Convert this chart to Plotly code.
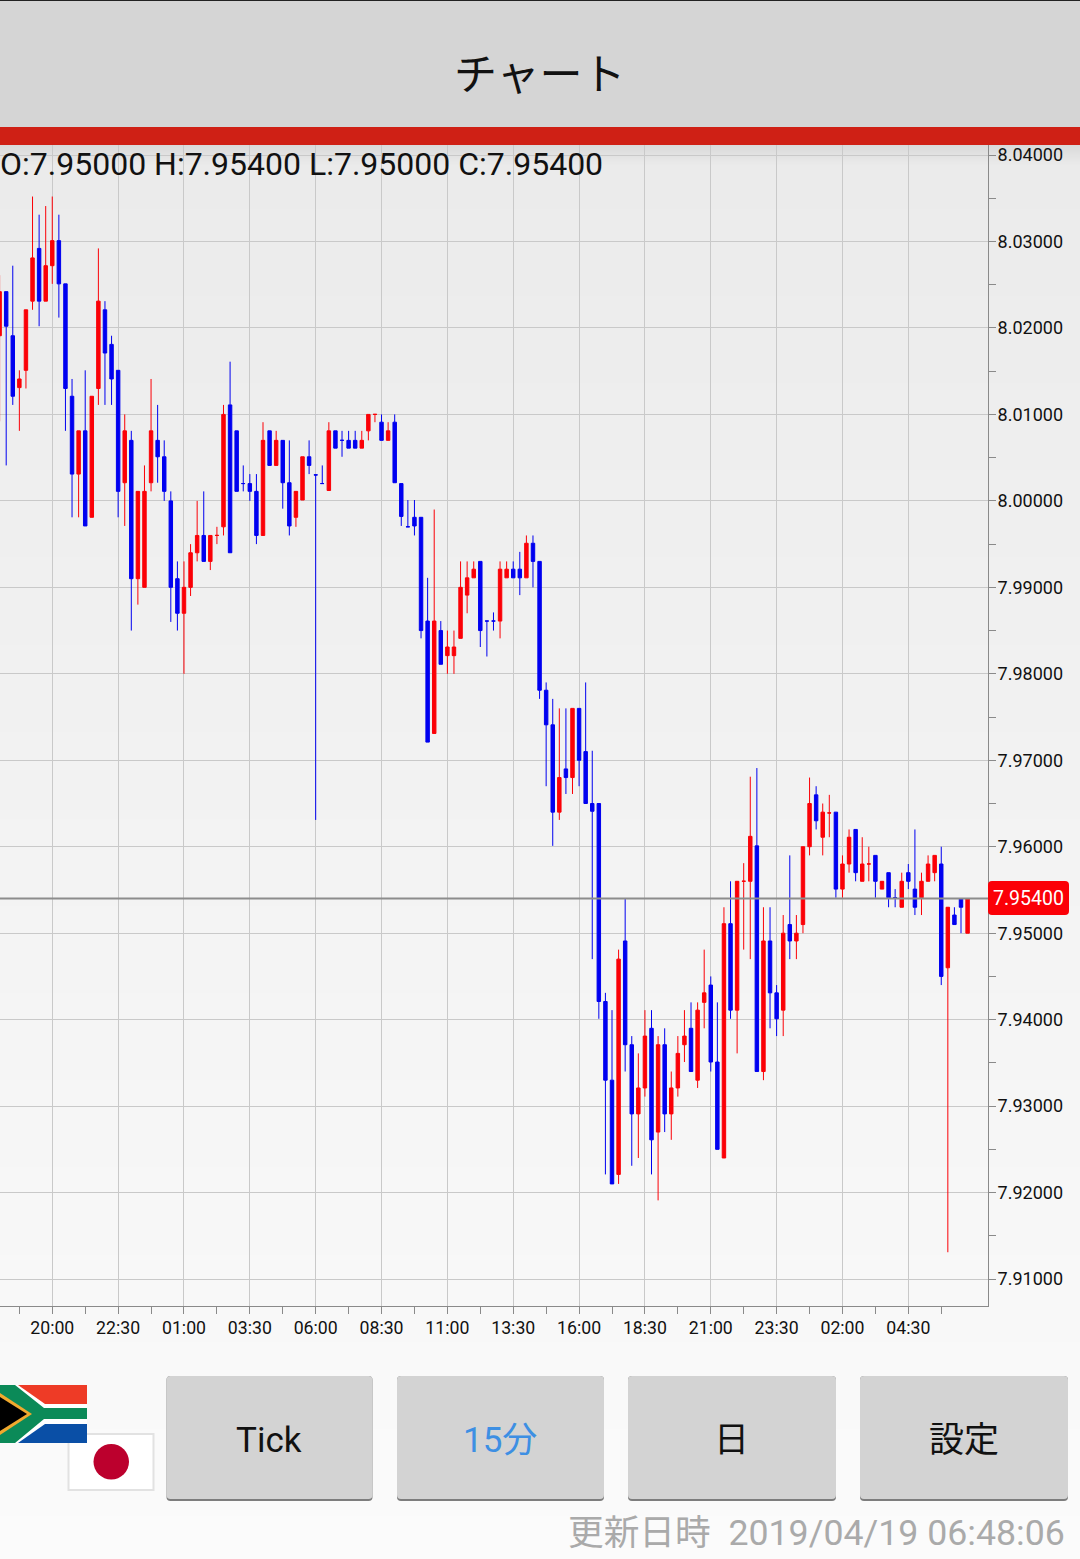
"""
plot.py
チャート画面(ZAR/JPY 15分足)を Plotly で再現する。
"""
import plotly.graph_objects as go

# 15分足の四本値。20:00 の足を 0 番として -8 番から並べる
OPEN = [
    8.0191, 8.0242, 8.0191, 8.0131, 8.0151, 8.0231, 8.0292, 8.0231, 8.0272, 8.0301,
    8.0251, 8.0121, 8.0031, 8.0081, 7.9981, 8.0130, 8.0221, 8.0181, 8.0151, 8.0021,
    8.0070, 7.9910, 7.9900, 8.0021, 8.0070, 8.0051, 8.0000, 7.9910, 7.9870, 7.9900,
    7.9940, 7.9960, 7.9930, 7.9960, 7.9970, 8.0111, 8.0081, 8.00201, 8.0020, 8.0011,
    7.9960, 8.0081, 8.0041, 8.0070, 8.0021, 7.9981, 8.0001, 8.0051, 8.00301, 8.00201,
    8.0012, 8.0081, 8.00701, 8.0070, 8.0070, 8.0061, 8.0081, 8.0100, 8.0091, 8.0070,
    8.0091, 8.0020, 7.99701, 7.9981, 7.9981, 7.9861, 7.9731, 7.9850, 7.9821, 7.9821,
    7.9841, 7.9891, 7.9911, 7.9930, 7.98611, 7.98611, 7.9861, 7.9911, 7.9921, 7.9921,
    7.9911, 7.9951, 7.9930, 7.9781, 7.9741, 7.9640, 7.9690, 7.9680, 7.9760, 7.9710,
    7.9650, 7.9650, 7.9421, 7.9330, 7.9221, 7.9491, 7.9371, 7.9291, 7.9321, 7.9390,
    7.9270, 7.9371, 7.9291, 7.9321, 7.9371, 7.9390, 7.9330, 7.9420, 7.9440, 7.9351,
    7.9240, 7.9511, 7.9411, 7.9560, 7.9560, 7.9601, 7.9340, 7.9491, 7.9431, 7.9411,
    7.9510, 7.9491, 7.9510, 7.9600, 7.9660, 7.9611, 7.9639, 7.9640, 7.9551, 7.9580,
    7.9620, 7.9560, 7.9580, 7.9590, 7.9551, 7.9570, 7.95411, 7.9530, 7.9570, 7.9551,
    7.9541, 7.9560, 7.9570, 7.9580, 7.9460, 7.9521, 7.9540, 7.9500,
]
HIGH = [
    8.0261, 8.0242, 8.0272, 8.0151, 8.0221, 8.0352, 8.0331, 8.0341, 8.0352, 8.0331,
    8.0251, 8.0141, 8.0081, 8.0151, 8.0121, 8.0292, 8.0231, 8.0191, 8.0151, 8.0100,
    8.0081, 8.0011, 8.0041, 8.0141, 8.0111, 8.0070, 8.0011, 7.9930, 7.9930, 7.9950,
    8.0000, 8.0011, 7.9960, 7.9970, 8.0111, 8.0161, 8.0081, 8.0041, 8.0031, 8.0031,
    8.0091, 8.0081, 8.0081, 8.0070, 8.0070, 8.0011, 8.0051, 8.0070, 8.00301, 8.0041,
    8.0091, 8.0081, 8.0081, 8.0081, 8.0081, 8.0081, 8.0100, 8.01001, 8.0100, 8.0091,
    8.0100, 8.0020, 8.0001, 8.0001, 7.9981, 7.9911, 7.9990, 7.9861, 7.9850, 7.9850,
    7.9930, 7.9930, 7.9930, 7.9930, 7.98611, 7.9871, 7.9930, 7.9930, 7.9930, 7.9941,
    7.9960, 7.9960, 7.9930, 7.9790, 7.9771, 7.9760, 7.9760, 7.9760, 7.9760, 7.9790,
    7.9711, 7.9650, 7.9431, 7.9411, 7.9481, 7.9540, 7.9381, 7.9361, 7.9411, 7.9411,
    7.9381, 7.9390, 7.9340, 7.9381, 7.9411, 7.9420, 7.9420, 7.9481, 7.9450, 7.9420,
    7.9530, 7.9560, 7.9560, 7.9581, 7.9681, 7.9691, 7.9530, 7.9530, 7.9440, 7.9521,
    7.9590, 7.9521, 7.9600, 7.9680, 7.9670, 7.9650, 7.9660, 7.9640, 7.9590, 7.9620,
    7.9620, 7.9611, 7.9600, 7.9590, 7.9560, 7.9570, 7.9551, 7.9570, 7.9580, 7.9620,
    7.9570, 7.9590, 7.9590, 7.9600, 7.9530, 7.9530, 7.9540, 7.9540,
]
LOW = [
    8.0092, 8.0041, 8.0111, 8.0081, 8.0130, 8.0221, 8.0202, 8.0231, 8.0251, 8.0212,
    8.0081, 7.9981, 7.9981, 7.9971, 7.9981, 8.0111, 8.0111, 8.0111, 7.9981, 7.9971,
    7.9850, 7.9880, 7.9900, 8.0011, 8.0021, 8.0000, 7.9860, 7.9850, 7.9800, 7.9890,
    7.9930, 7.9930, 7.9920, 7.9950, 7.9960, 7.9940, 8.0011, 8.0011, 8.0000, 7.9950,
    7.9960, 8.0041, 8.0041, 7.9991, 7.9960, 7.9970, 8.0001, 8.0031, 7.9631, 8.0020,
    8.0012, 8.0061, 8.0051, 8.0061, 8.0061, 8.0061, 8.0070, 8.0091, 8.0070, 8.0070,
    8.0021, 7.9971, 7.9970, 7.9960, 7.9841, 7.9721, 7.9731, 7.9811, 7.9800, 7.9800,
    7.9841, 7.9870, 7.9911, 7.9831, 7.9820, 7.9850, 7.9841, 7.9911, 7.9911, 7.9891,
    7.9911, 7.9900, 7.9771, 7.9670, 7.9601, 7.9631, 7.9661, 7.9661, 7.9670, 7.9650,
    7.9470, 7.9401, 7.9221, 7.9210, 7.9210, 7.9340, 7.9231, 7.9240, 7.9311, 7.9221,
    7.9191, 7.9270, 7.9261, 7.9311, 7.9351, 7.9340, 7.9321, 7.9390, 7.9340, 7.9250,
    7.9240, 7.9401, 7.9361, 7.9481, 7.9470, 7.9340, 7.9330, 7.9390, 7.9381, 7.9381,
    7.9470, 7.9470, 7.9500, 7.9590, 7.9620, 7.9590, 7.9611, 7.9541, 7.9541, 7.9570,
    7.9560, 7.9560, 7.9560, 7.9541, 7.9551, 7.9530, 7.9530, 7.9530, 7.9551, 7.9521,
    7.9521, 7.9560, 7.9560, 7.9440, 7.9131, 7.9510, 7.9500, 7.9500,
]
CLOSE = [
    8.0242, 8.0202, 8.0121, 8.0141, 8.0221, 8.0281, 8.0231, 8.0272, 8.0301, 8.0251,
    8.0130, 8.0031, 8.0081, 7.9971, 8.0121, 8.0231, 8.0171, 8.0141, 8.0011, 8.0081,
    7.9910, 8.0011, 8.0011, 8.0081, 8.0051, 8.0011, 7.9900, 7.9870, 7.9900, 7.9940,
    7.9960, 7.9930, 7.9960, 7.99601, 8.0100, 7.9940, 8.0011, 8.0020, 8.0011, 7.9960,
    8.0070, 8.0041, 8.0070, 8.0021, 7.9971, 8.0011, 8.0051, 8.0041, 8.0030, 8.0020,
    8.0081, 8.0061, 8.0070, 8.0061, 8.0061, 8.0070, 8.0100, 8.01001, 8.0070, 8.0081,
    8.0021, 7.9982, 7.9970, 7.9971, 7.9850, 7.9721, 7.9861, 7.9811, 7.9831, 7.9831,
    7.9900, 7.9911, 7.9921, 7.9850, 7.9861, 7.9861, 7.9921, 7.9921, 7.9911, 7.9911,
    7.9951, 7.9930, 7.9781, 7.9741, 7.9640, 7.9680, 7.9680, 7.9760, 7.9700, 7.9650,
    7.9641, 7.9421, 7.9330, 7.9210, 7.9470, 7.9371, 7.9291, 7.9321, 7.9381, 7.9261,
    7.9371, 7.9291, 7.9321, 7.9361, 7.9381, 7.9340, 7.9411, 7.9431, 7.9351, 7.9250,
    7.9511, 7.9411, 7.9560, 7.95601, 7.9612, 7.9340, 7.9491, 7.9431, 7.9401, 7.9500,
    7.9491, 7.9500, 7.9600, 7.9650, 7.9630, 7.9640, 7.96391, 7.9551, 7.9580, 7.9611,
    7.9570, 7.9580, 7.95801, 7.9560, 7.9560, 7.9541, 7.9541, 7.9560, 7.9560, 7.9530,
    7.9560, 7.9580, 7.9590, 7.9450, 7.9530, 7.9510, 7.9530, 7.9540,
]
BAR_NO = list(range(-8, len(OPEN) - 8))

TIME_TICKS = [0, 10, 20, 30, 40, 50, 60, 70, 80, 90, 100, 110, 120, 130]
TIME_LABELS = ["20:00", "22:30", "01:00", "03:30", "06:00", "08:30", "11:00",
               "13:30", "16:00", "18:30", "21:00", "23:30", "02:00", "04:30"]
TIME_MINOR = [-5, 5, 15, 25, 35, 45, 55, 65, 75, 85, 95, 105, 115, 125, 135]
LAST_PRICE = 7.954
OHLC_TEXT = "O:7.95000 H:7.95400 L:7.95000 C:7.95400"

FONT = "Roboto, 'Noto Sans CJK JP', sans-serif"
TEXT_COLOR = "#111111"
AXIS_COLOR = "#8a8a8a"
GRID_COLOR = "#c9c9c9"
UP_COLOR = "#fb0007"
DOWN_COLOR = "#0000f0"
W, H = 1080, 1559


def rounded(x0, y0, x1, y1, r=4):
    return (f"M{x0 + r},{y0} L{x1 - r},{y0} Q{x1},{y0} {x1},{y0 + r} L{x1},{y1 - r} "
            f"Q{x1},{y1} {x1 - r},{y1} L{x0 + r},{y1} Q{x0},{y1} {x0},{y1 - r} "
            f"L{x0},{y0 + r} Q{x0},{y0} {x0 + r},{y0} Z")


def poly(*pts):
    return "M" + " L".join(f"{x},{y}" for x, y in pts) + " Z"


def page_shape(fig, color, path=None, rect=None, line=None, kind="path"):
    """x / y 軸(画面ピクセル座標)の上に図形を置く"""
    common = dict(xref="x", yref="y", fillcolor=color, line=line or dict(width=0))
    if rect:
        fig.add_shape(type=kind, x0=rect[0], y0=rect[1], x1=rect[2], y1=rect[3], **common)
    else:
        fig.add_shape(type="path", path=path, **common)


def page_text(fig, text, x, y, size, color=TEXT_COLOR, anchor="center", xshift=0):
    fig.add_annotation(
        text=text, x=x, y=y, xref="x", yref="y", xanchor=anchor, yanchor="middle",
        xshift=xshift, showarrow=False, font=dict(family=FONT, size=size, color=color),
    )


fig = go.Figure()

# 背景のグラデーション(上端は赤帯の影)
fig.add_trace(go.Heatmap(
    x=[0, W], y=[145, H], z=[[0, 0], [1, 1]], zsmooth="best", showscale=False,
    hoverinfo="skip",
    colorscale=[[0, "#dadada"], [0.014, "#ebebeb"], [1, "#fbfbfb"]],
    xaxis="x", yaxis="y",
))

fig.add_trace(go.Candlestick(
    x=BAR_NO, open=OPEN, high=HIGH, low=LOW, close=CLOSE,
    increasing=dict(line=dict(color=UP_COLOR, width=1), fillcolor=UP_COLOR),
    decreasing=dict(line=dict(color=DOWN_COLOR, width=1), fillcolor=DOWN_COLOR),
    xaxis="x2", yaxis="y2", showlegend=False,
))

# 現在値のライン
fig.add_shape(type="line", xref="x2 domain", yref="y2", x0=0, x1=1,
              y0=LAST_PRICE, y1=LAST_PRICE, line=dict(color="#8c8c8c", width=2))

# ヘッダー
page_shape(fig, "#d5d5d5", rect=(0, 0, W, 127), kind="rect")
page_shape(fig, "#222222", rect=(0, 0, W, 1), kind="rect")
page_shape(fig, "#cf2015", rect=(0, 127, W, 145), kind="rect")
page_text(fig, "チャート", 540, 75, 43)
page_text(fig, OHLC_TEXT, 0, 164, 32, anchor="left", xshift=-2)

# 現在値ラベル
page_shape(fig, "#fb0007", path=rounded(988, 881, 1069, 915))
page_text(fig, "7.95400", 1028.5, 898, 19.5, color="#ffffff")

# 国旗(日本 → 南アフリカの順に重ねる)
page_shape(fig, "#ffffff", rect=(68.5, 1434, 153.5, 1490), kind="rect",
           line=dict(color="#e2e2e2", width=2))
page_shape(fig, "#bc002d", rect=(93.5, 1444, 129, 1479.5), kind="circle")
page_shape(fig, "#ffffff", rect=(0, 1385, 87, 1443), kind="rect")
page_shape(fig, "#ee3b26", path=poly((18, 1385), (87, 1385), (87, 1404), (45, 1404)))
page_shape(fig, "#0a4fa6", path=poly((18, 1443), (87, 1443), (87, 1424), (45, 1424)))
page_shape(fig, "#0b8a58", path=poly(
    (0, 1385), (15, 1385), (44, 1408), (87, 1408), (87, 1419), (44, 1419), (15, 1443), (0, 1443)))
page_shape(fig, "#f0a92e", path=poly((0, 1393), (32, 1414), (0, 1435)))
page_shape(fig, "#000000", path=poly((0, 1397), (27, 1414), (0, 1431)))

# ボタン
for (x0, x1), label, color in zip(
    [(166.5, 372.5), (397, 604), (628, 836), (860, 1068)],
    ["Tick", "15分", "日", "設定"],
    [TEXT_COLOR, "#3d8fe3", TEXT_COLOR, TEXT_COLOR],
):
    page_shape(fig, "#7d7d7d", path=rounded(x0, 1376, x1, 1501))
    page_shape(fig, "#d3d3d3", path=rounded(x0, 1376, x1, 1499))
    page_text(fig, label, (x0 + x1) / 2 - 0.5, 1440, 35, color=color)

page_text(fig, "更新日時\u00a0 2019/04/19 06:48:06", 1067, 1533, 35.7, color="#aaaaaa", anchor="right")

fig.update_layout(
    width=W, height=H,
    margin=dict(l=0, r=0, t=0, b=0),
    paper_bgcolor="#fbfbfb",
    plot_bgcolor="rgba(0,0,0,0)",
    boxgap=0.25,
    showlegend=False,
    font=dict(family=FONT, color=TEXT_COLOR),
    xaxis=dict(range=[0, W], visible=False, fixedrange=True, domain=[0, 1]),
    yaxis=dict(range=[H, 0], visible=False, fixedrange=True, domain=[0, 1]),
    xaxis2=dict(
        domain=[0, 988 / W], anchor="y2", range=[-7.94, 142.1],
        rangeslider=dict(visible=False),
        tickmode="array", tickvals=TIME_TICKS, ticktext=TIME_LABELS,
        ticks="outside", ticklen=7, tickwidth=1, tickcolor=AXIS_COLOR,
        ticklabelstandoff=-1,
        tickfont=dict(family=FONT, size=17.7, color=TEXT_COLOR),
        showgrid=True, gridcolor=GRID_COLOR, gridwidth=1,
        showline=True, linecolor=AXIS_COLOR, linewidth=1,
        zeroline=False,
        minor=dict(tickmode="array", tickvals=TIME_MINOR, ticks="outside", ticklen=7,
                   tickwidth=1, tickcolor=AXIS_COLOR, showgrid=False),
    ),
    yaxis2=dict(
        domain=[1 - 1305.5 / H, 1 - 145 / H], anchor="x2", side="right",
        range=[7.90694, 8.04116],
        tick0=8.0, dtick=0.01, tickformat=".5f",
        ticks="outside", ticklen=7, tickwidth=1, tickcolor=AXIS_COLOR,
        ticklabelstandoff=-2,
        tickfont=dict(family=FONT, size=18, color=TEXT_COLOR),
        showgrid=True, gridcolor=GRID_COLOR, gridwidth=1,
        showline=True, linecolor=AXIS_COLOR, linewidth=1,
        zeroline=False,
        minor=dict(dtick=0.005, tick0=8.0, ticks="outside", ticklen=7,
                   tickwidth=1, tickcolor=AXIS_COLOR, showgrid=False),
    ),
)

fig.write_html(
    "out.html",
    config=dict(displayModeBar=False),
    post_script="document.body.style.margin='0';document.documentElement.style.overflow='hidden';",
)
